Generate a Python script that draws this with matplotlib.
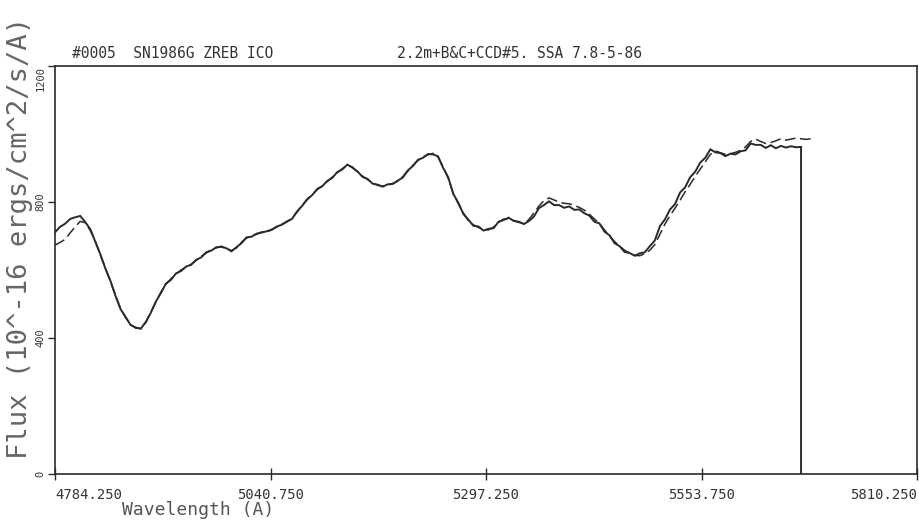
import numpy as np
import matplotlib
matplotlib.use("Agg")
import matplotlib.pyplot as plt

# ---- data ----
wave_start = 4784.25      # Angstrom, first pixel
wave_step = 6.0           # Angstrom per sample
xticks = [4784.25, 5040.75, 5297.25, 5553.75, 5810.25]
xtick_labels = ["4784.250", "5040.750", "5297.250", "5553.750", "5810.250"]
yticks = [0, 400, 800, 1200]
ytick_labels = ["0", "400", "800", "1200"]

flux_solid = [
    711, 727, 736, 750, 755, 759, 741, 720, 683, 646,
    604, 568, 524, 485, 462, 438, 431, 427, 447, 474,
    507, 532, 560, 571, 590, 597, 610, 615, 630, 637,
    652, 657, 667, 668, 664, 655, 667, 679, 696, 698,
    707, 710, 714, 718, 728, 733, 743, 750, 772, 788,
    808, 820, 838, 846, 862, 871, 888, 896, 910, 901,
    890, 874, 868, 854, 851, 845, 852, 853, 863, 872,
    893, 906, 924, 930, 941, 940, 934, 900, 873, 824,
    798, 765, 748, 730, 728, 716, 721, 723, 742, 747,
    754, 744, 742, 735, 744, 757, 782, 791, 802, 791,
    791, 783, 787, 777, 778, 767, 760, 742, 737, 713,
    702, 679, 670, 653, 650, 642, 649, 652, 670, 687,
    729, 749, 778, 794, 828, 843, 873, 889, 916, 930,
    955, 946, 944, 935, 942, 940, 949, 952, 972, 968,
    968, 959, 967, 958, 965, 960, 964, 961, 962,
]
drop_flux = 0  # spectrum drops to zero after the last sample

flux_dashed = [
    673, 681, 690, 709, 727, 743, 739, 716, 685, 644,
    606, 566, 526, 487, 460, 440, 429, 429, 445, 476,
    505, 535, 558, 574, 588, 600, 608, 617, 628, 640,
    650, 660, 665, 670, 664, 657, 665, 682, 694, 700,
    705, 712, 711, 720, 726, 735, 741, 752, 770, 790,
    806, 822, 836, 848, 860, 873, 886, 898, 909, 903,
    888, 876, 866, 856, 849, 847, 850, 855, 861, 875,
    891, 908, 922, 933, 939, 943, 932, 903, 870, 826,
    795, 768, 745, 733, 725, 719, 718, 726, 740, 750,
    751, 746, 740, 738, 748, 768, 788, 804, 812, 806,
    800, 796, 795, 790, 784, 776, 764, 750, 737, 718,
    700, 684, 670, 658, 650, 643, 642, 648, 658, 675,
    705, 735, 760, 782, 805, 830, 852, 875, 897, 918,
    940, 950, 945, 940, 942, 946, 952, 962, 978, 985,
    978, 972, 975, 980, 986, 982, 985, 988, 986, 984,
    986,
]

title_left = "#0005  SN1986G ZREB ICO"
title_right = "2.2m+B&C+CCD#5. SSA 7.8-5-86"
xlabel = "Wavelength (A)"
ylabel = "Flux (10^-16 ergs/cm^2/s/A)"

# ---- plot ----
mono = "DejaVu Sans Mono"
ink = "#2a2a2a"

fig = plt.figure(figsize=(9.19, 5.26), dpi=100)
ax = fig.add_axes([55 / 919, 52 / 526, 862 / 919, 408 / 526])

ws = wave_start + wave_step * np.arange(len(flux_solid))
wd = wave_start + wave_step * np.arange(len(flux_dashed))

ax.plot(np.append(ws, ws[-1]), np.append(flux_solid, drop_flux),
        color=ink, lw=1.4, solid_joinstyle="miter")
ax.plot(wd, flux_dashed, color=ink, lw=1.1, ls=(0, (7, 3)))

ax.set_xlim(xticks[0], xticks[-1])
ax.set_ylim(yticks[0], yticks[-1])

ax.set_xticks(xticks)
ax.set_xticklabels(xtick_labels, fontfamily=mono, fontsize=10, color="#333333")
xl = ax.get_xticklabels()
xl[0].set_ha("left")
xl[-1].set_ha("right")
ax.tick_params(axis="x", direction="inout", length=8, width=1, pad=6, colors=ink,
               labelcolor="#333333")

ax.set_yticks(yticks)
ax.set_yticklabels(ytick_labels, fontfamily=mono, fontsize=7.5, rotation=90,
                   va="center", color="#333333")
yl = ax.get_yticklabels()
yl[-1].set_va("top")
ax.tick_params(axis="y", direction="out", length=5, width=1, pad=2, colors=ink,
               labelcolor="#333333")

for s in ax.spines.values():
    s.set_color(ink)
    s.set_linewidth(1.2)

fig.text(72 / 919, 1 - 53 / 526, title_left, fontfamily=mono, fontsize=10.5,
         va="center", ha="left", color="#333333")
fig.text(397 / 919, 1 - 53 / 526, title_right, fontfamily=mono, fontsize=10.5,
         va="center", ha="left", color="#333333")
fig.text(122 / 919, 1 - 510 / 526, xlabel, fontfamily=mono, fontsize=13,
         va="center", ha="left", color="#555555")
fig.text(20 / 919, 1 - 238 / 526, ylabel, fontfamily=mono, fontsize=19.5,
         va="center", ha="center", rotation=90, color="#666666")

fig.savefig("out.png", dpi=100, facecolor="white")
